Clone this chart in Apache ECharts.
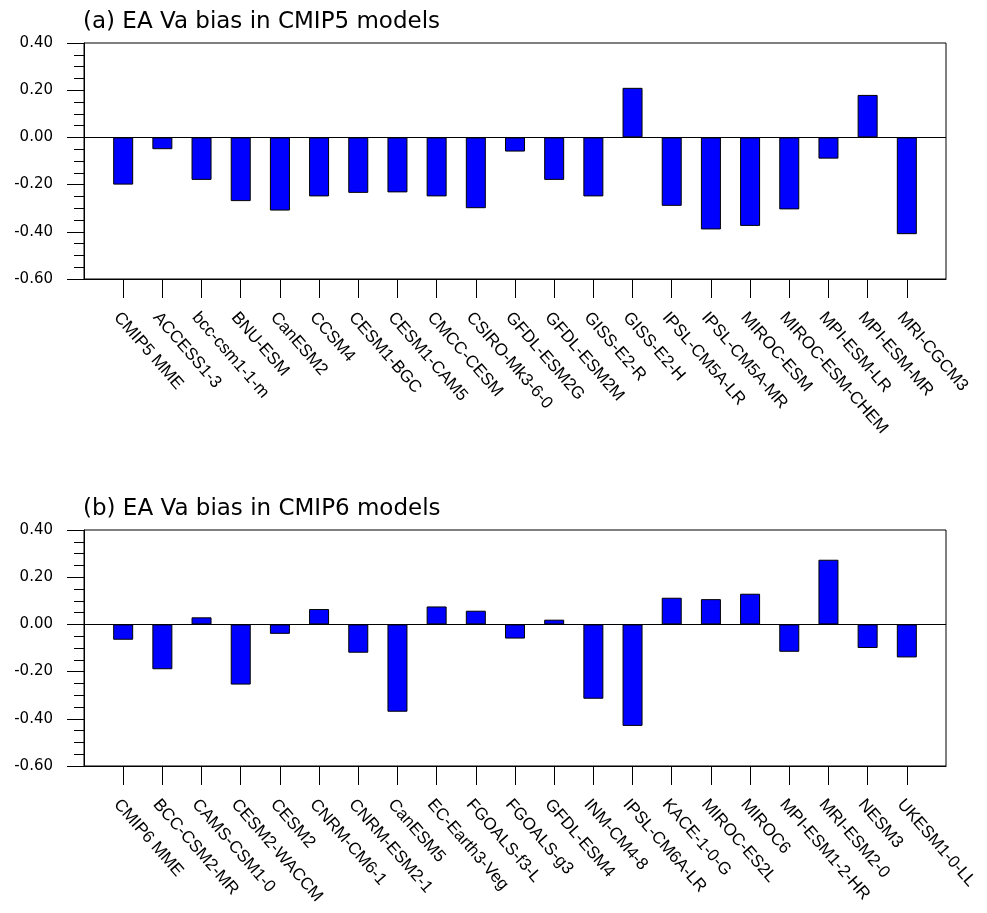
<!DOCTYPE html>
<html>
<head>
<meta charset="utf-8">
<script src="https://cdn.jsdelivr.net/npm/echarts@6/dist/echarts.min.js"></script>
<style>html,body{margin:0;padding:0;background:#fff}#c{width:987px;height:913px}</style>
</head>
<body>
<div id="c"></div>
<script>
const titleA = '(a) EA Va bias in CMIP5 models';
const titleB = '(b) EA Va bias in CMIP6 models';
const cmip5Models = ['CMIP5 MME','ACCESS1-3','bcc-csm1-1-m','BNU-ESM','CanESM2','CCSM4','CESM1-BGC','CESM1-CAM5','CMCC-CESM','CSIRO-Mk3-6-0','GFDL-ESM2G','GFDL-ESM2M','GISS-E2-R','GISS-E2-H','IPSL-CM5A-LR','IPSL-CM5A-MR','MIROC-ESM','MIROC-ESM-CHEM','MPI-ESM-LR','MPI-ESM-MR','MRI-CGCM3'];
const cmip5Bias = [-0.20,-0.05,-0.18,-0.27,-0.31,-0.25,-0.235,-0.233,-0.25,-0.30,-0.06,-0.18,-0.25,0.21,-0.29,-0.39,-0.375,-0.305,-0.09,0.18,-0.41];
const cmip6Models = ['CMIP6 MME','BCC-CSM2-MR','CAMS-CSM1-0','CESM2-WACCM','CESM2','CNRM-CM6-1','CNRM-ESM2-1','CanESM5','EC-Earth3-Veg','FGOALS-f3-L','FGOALS-g3','GFDL-ESM4','INM-CM4-8','IPSL-CM6A-LR','KACE-1-0-G','MIROC-ES2L','MIROC6','MPI-ESM1-2-HR','MRI-ESM2-0','NESM3','UKESM1-0-LL'];
const cmip6Bias = [-0.065,-0.19,0.03,-0.255,-0.04,0.065,-0.12,-0.37,0.076,0.058,-0.06,0.02,-0.315,-0.43,0.113,0.107,0.13,-0.116,0.274,-0.10,-0.14];
const yMin = -0.6, yMax = 0.4, yStep = 0.2;

const FONT = 'DejaVu Sans';
const LFONT = 'Liberation Sans';
const chart = echarts.init(document.getElementById('c'), null, {renderer: 'canvas'});

function padCats(names) { return [''].concat(names, ['']); }
function padVals(vals) { return [null].concat(vals, [null]); }
const nCat = cmip5Models.length + 2;

function xAxisFor(gi, names) {
  return {
    type: 'category', gridIndex: gi, data: padCats(names), boundaryGap: false,
    axisLine: {show: true, onZero: false, lineStyle: {color: '#000', width: 1}},
    axisTick: {show: true, inside: false, length: 19, lineStyle: {color: '#000', width: 1},
      interval: function (i) { return i > 0 && i < nCat - 1; }},
    axisLabel: {show: true, interval: 0, rotate: -49, margin: 30, color: '#000',
      verticalAlign: 'top', fontFamily: LFONT, fontSize: 17},
    splitLine: {show: false}
  };
}
function yAxisFor(gi) {
  return {
    type: 'value', gridIndex: gi, min: yMin, max: yMax, interval: yStep,
    axisLine: {show: true, lineStyle: {color: '#000', width: 1}},
    axisTick: {show: true, inside: false, length: 17, lineStyle: {color: '#000', width: 1}},
    minorTick: {show: true, splitNumber: 4, length: 10, lineStyle: {color: '#000', width: 1}},
    axisLabel: {show: true, margin: 31, color: '#000', fontFamily: FONT, fontSize: 15,
      formatter: function (v) { return v.toFixed(2); }},
    splitLine: {show: false}
  };
}
function barSeries(gi, vals) {
  return {
    type: 'bar', xAxisIndex: gi, yAxisIndex: gi, data: padVals(vals), barWidth: 20,
    itemStyle: {color: '#0000ff', borderColor: '#000', borderWidth: 1},
    silent: true, animation: false,
    markLine: {silent: true, symbol: 'none', label: {show: false},
      lineStyle: {color: '#000', width: 1, type: 'solid'}, data: [{yAxis: 0}]}
  };
}

chart.setOption({
  animation: false,
  backgroundColor: '#fff',
  title: [
    {text: titleA, left: 83, top: 11, padding: 0, textStyle: {fontFamily: FONT, fontSize: 23, fontWeight: 'normal', color: '#000'}},
    {text: titleB, left: 83, top: 498, padding: 0, textStyle: {fontFamily: FONT, fontSize: 23, fontWeight: 'normal', color: '#000'}}
  ],
  grid: [
    {left: 84, top: 43, width: 862, height: 236, show: true, borderColor: '#000', borderWidth: 1, backgroundColor: 'transparent', containLabel: false, outerBoundsMode: 'none'},
    {left: 84, top: 530, width: 862, height: 236, show: true, borderColor: '#000', borderWidth: 1, backgroundColor: 'transparent', containLabel: false, outerBoundsMode: 'none'}
  ],
  xAxis: [xAxisFor(0, cmip5Models), xAxisFor(1, cmip6Models)],
  yAxis: [yAxisFor(0), yAxisFor(1)],
  series: [barSeries(0, cmip5Bias), barSeries(1, cmip6Bias)]
});
</script>
</body>
</html>
